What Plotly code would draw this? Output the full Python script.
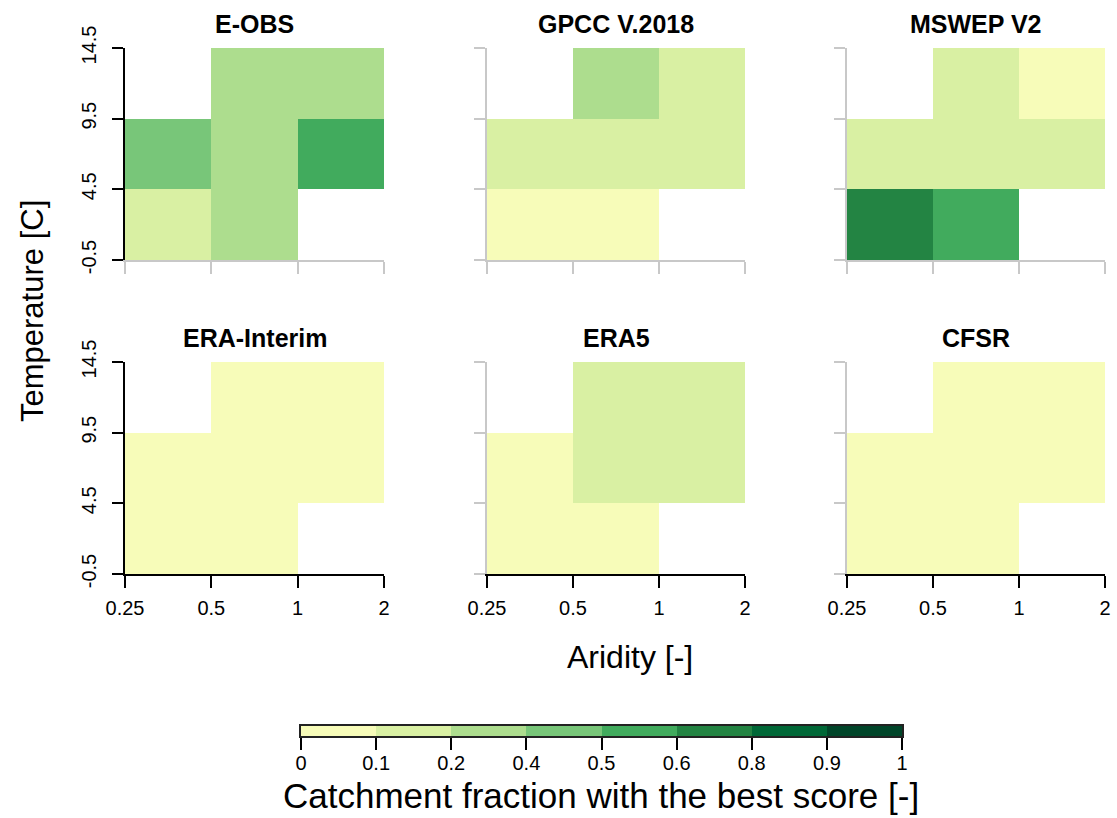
import numpy as np
import plotly.graph_objects as go

W, H = 1117, 818

# ---------------- data ----------------
aridity_breaks = [0.25, 0.5, 1, 2]
aridity_labels = ["0.25", "0.5", "1", "2"]
temperature_breaks = [-0.5, 4.5, 9.5, 14.5]
temperature_labels = ["-0.5", "4.5", "9.5", "14.5"]

level_breaks = [0, 0.1, 0.2, 0.4, 0.5, 0.6, 0.8, 0.9, 1]
level_labels = ["0", "0.1", "0.2", "0.4", "0.5", "0.6", "0.8", "0.9", "1"]
level_colors = ["#F7FCB9", "#D9F0A3", "#ADDD8E", "#78C679",
                "#41AB5D", "#238443", "#006837", "#004529"]

products = ["E-OBS", "GPCC V.2018", "MSWEP V2", "ERA-Interim", "ERA5", "CFSR"]

# rows: temperature bins (low -> high); columns: aridity bins (low -> high)
eobs = [[0.15, 0.30, None], [0.45, 0.30, 0.55], [None, 0.30, 0.30]]
gpcc = [[0.05, 0.05, None], [0.15, 0.15, 0.15], [None, 0.30, 0.15]]
mswep = [[0.70, 0.55, None], [0.15, 0.15, 0.15], [None, 0.15, 0.05]]
era_interim = [[0.05, 0.05, None], [0.05, 0.05, 0.05], [None, 0.05, 0.05]]
era5 = [[0.05, 0.05, None], [0.05, 0.15, 0.15], [None, 0.15, 0.15]]
cfsr = [[0.05, 0.05, None], [0.05, 0.05, 0.05], [None, 0.05, 0.05]]
fractions = [eobs, gpcc, mswep, era_interim, era5, cfsr]

# ---------------- style / layout ----------------
FONT = "Liberation Sans, Arial, sans-serif"
BLACK = "#000000"
GREY = "#C8C8C8"

colorscale = []
for i, c in enumerate(level_colors):
    colorscale.append([level_breaks[i], c])
    colorscale.append([level_breaks[i + 1], c])

col_px = [(125, 384), (487, 745), (847, 1105)]
row_px = [(48, 260), (362, 574)]

fig = go.Figure()
layout = dict(
    width=W, height=H, margin=dict(l=0, r=0, t=0, b=0, autoexpand=False),
    paper_bgcolor="white", plot_bgcolor="white", showlegend=False,
    font=dict(family=FONT, color="black"),
)
annotations = []

for k, name in enumerate(products):
    r, c = divmod(k, 3)
    ax = k + 1
    xa = "xaxis" if ax == 1 else f"xaxis{ax}"
    ya = "yaxis" if ax == 1 else f"yaxis{ax}"
    xref = "x" if ax == 1 else f"x{ax}"
    yref = "y" if ax == 1 else f"y{ax}"
    z = np.array(fractions[k], dtype=float)
    fig.add_trace(go.Heatmap(
        x=aridity_breaks, y=temperature_breaks, z=z,
        colorscale=colorscale, zmin=0, zmax=1, showscale=False,
        xaxis=xref, yaxis=yref, hoverongaps=False,
    ))
    x0, x1 = col_px[c]
    y0, y1 = row_px[r]
    xcol = BLACK if r == 1 else GREY
    ycol = BLACK if c == 0 else GREY
    layout[xa] = dict(
        domain=[x0 / W, x1 / W], anchor=yref, type="log", automargin=False,
        range=[np.log10(aridity_breaks[0]), np.log10(aridity_breaks[-1])],
        tickmode="array", tickvals=aridity_breaks, ticktext=aridity_labels,
        showticklabels=(r == 1), ticks="outside", ticklen=12, tickwidth=1.5,
        tickcolor=xcol, showline=True, linecolor=xcol, linewidth=1.5,
        showgrid=False, zeroline=False, fixedrange=True,
        tickfont=dict(size=20, family=FONT, color="black"), ticklabelstandoff=3,
    )
    layout[ya] = dict(
        domain=[1 - y1 / H, 1 - y0 / H], anchor=xref, automargin=False,
        range=[temperature_breaks[0], temperature_breaks[-1]],
        tickmode="array", tickvals=temperature_breaks, ticktext=temperature_labels,
        showticklabels=(c == 0), ticks="outside", ticklen=11, tickwidth=1.5,
        tickcolor=ycol, showline=True, linecolor=ycol, linewidth=1.5,
        showgrid=False, zeroline=False, fixedrange=True, tickangle=-90,
        tickfont=dict(size=20, family=FONT, color="black"), ticklabelstandoff=8,
    )
    annotations.append(dict(
        text=f"<b>{name}</b>", x=(x0 + x1) / 2 / W, y=1 - (y0 - 24) / H,
        xref="paper", yref="paper", showarrow=False,
        font=dict(size=25, family=FONT, color="black"),
        xanchor="center", yanchor="middle",
    ))

# ---------------- colour bar (equal-width level boxes) ----------------
mids = [(level_breaks[i] + level_breaks[i + 1]) / 2 for i in range(len(level_colors))]
idx_edges = list(range(len(level_breaks)))
fig.add_trace(go.Heatmap(
    x=idx_edges, y=[0, 1], z=[mids], colorscale=colorscale, zmin=0, zmax=1,
    showscale=False, xaxis="x7", yaxis="y7", hoverinfo="skip",
))
layout["xaxis7"] = dict(
    domain=[301 / W, 902 / W], anchor="y7", range=[0, len(level_colors)],
    automargin=False,
    tickmode="array", tickvals=idx_edges, ticktext=level_labels,
    ticks="outside", ticklen=12, tickwidth=1.5, tickcolor=BLACK,
    showline=True, mirror=True, linecolor="#222222", linewidth=1.5,
    showgrid=False, zeroline=False, fixedrange=True,
    tickfont=dict(size=20, family=FONT, color="black"), ticklabelstandoff=-4,
)
layout["yaxis7"] = dict(
    domain=[1 - 736 / H, 1 - 726 / H], anchor="x7", range=[0, 1],
    automargin=False,
    showticklabels=False, ticks="", showline=True, mirror=True,
    linecolor="#222222", linewidth=1.5, showgrid=False, zeroline=False,
    fixedrange=True,
)

annotations += [
    dict(text="Temperature [C]", x=32 / W, y=1 - 311 / H, xref="paper", yref="paper",
         showarrow=False, textangle=-90, font=dict(size=31, family=FONT, color="black"),
         xanchor="center", yanchor="middle"),
    dict(text="Aridity [-]", x=630 / W, y=1 - 657 / H, xref="paper", yref="paper",
         showarrow=False, font=dict(size=32, family=FONT, color="black"),
         xanchor="center", yanchor="middle"),
    dict(text="Catchment fraction with the best score [-]", x=601 / W, y=1 - 795 / H,
         xref="paper", yref="paper", showarrow=False,
         font=dict(size=35, family=FONT, color="black"),
         xanchor="center", yanchor="middle"),
]
layout["annotations"] = annotations
fig.update_layout(**layout)
fig.write_html(
    "out.html",
    config={"displayModeBar": False},
    post_script="document.body.style.margin='0px';document.body.style.padding='0px';",
)
